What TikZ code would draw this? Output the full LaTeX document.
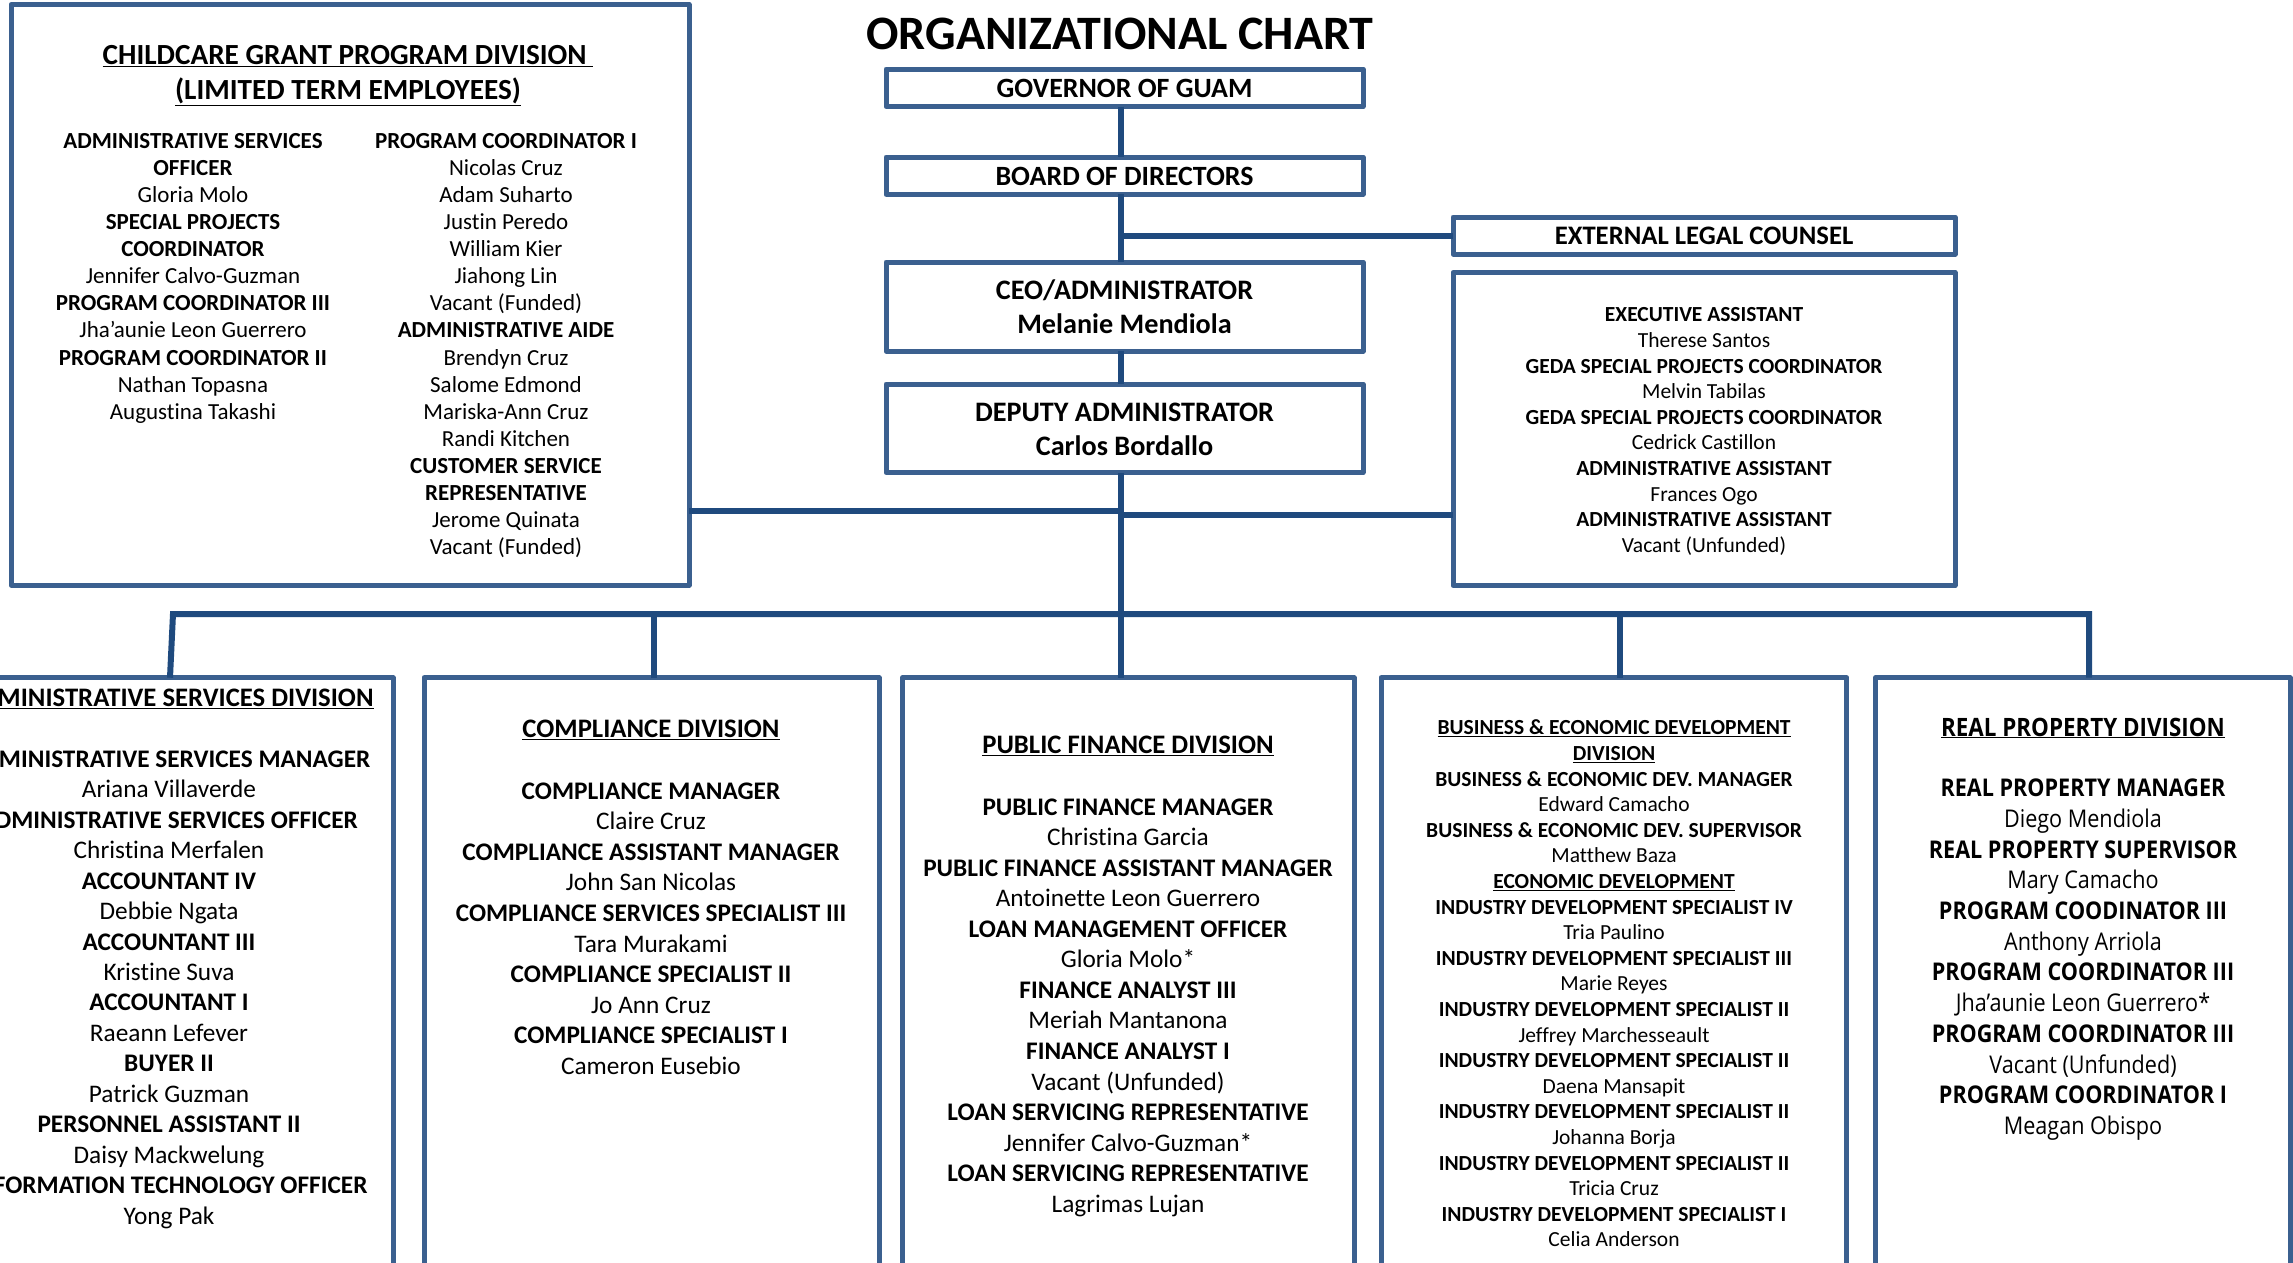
\documentclass[tikz,border=0pt]{standalone}
\usepackage{fontspec}
\setmainfont{Carlito}[Ligatures={NoCommon}, Contextuals={NoAlternate}]
\newfontfamily\rpfont[FakeStretch=0.885]{Open Sans}
\usetikzlibrary{calc}
\definecolor{connc}{RGB}{31,74,126}
\definecolor{bordc}{RGB}{59,96,143}
\newcommand\hb[1]{\textbf{#1}}
\newcommand\ul[1]{\underline{#1}}
\newcommand\stack[6]{%
  \foreach \t [count=\i] in {#6}{%
    \node[txt, font=#5] (#1\i) at (#2, {#3+(\i-1)*#4}) {\t};
  }}
\tikzset{
  txt/.style={anchor=base, inner sep=0pt, outer sep=0pt, text=black},
  conn/.style={draw=connc, line width=6pt, line join=miter},
  box/.style={draw=bordc, line width=5pt, fill=white, line join=round, inner sep=0pt, outer sep=0pt},
}
\begin{document}
\begin{tikzpicture}[x=1pt,y=-1pt]
\clip (0,0) rectangle (2293,1262);
\fill[white] (0,0) rectangle (2293,1262);
% connector coordinates
\coordinate (tk) at (1121,614);
\coordinate (jl) at (1121,511);
\coordinate (jr) at (1121,515);
\coordinate (je) at (1121,235.5);
\coordinate (bl) at (173,614);
\coordinate (br) at (2089,614);
\coordinate (d2) at (654,614);
\coordinate (d4) at (1620,614);
\coordinate (b1c) at (170,677.7);
% boxes
\node[box, minimum width=678, minimum height=580.5] (cc) at (350,294.75) {};
\node[box, minimum width=477, minimum height=37.5] (gov) at (1124.5,87.75) {};
\node[box, minimum width=477, minimum height=37.3] (board) at (1124.5,175.65) {};
\node[box, minimum width=477, minimum height=89] (ceo) at (1124.5,306.5) {};
\node[box, minimum width=477, minimum height=88.5] (dep) at (1124.5,428.25) {};
\node[box, minimum width=502, minimum height=37] (ext) at (1704,235.5) {};
\node[box, minimum width=502, minimum height=313] (exec) at (1704,429) {};
\node[box, minimum width=455, minimum height=622.3] (b1) at (165.5,988.85) {};
\node[box, minimum width=455, minimum height=622.3] (b2) at (651.5,988.85) {};
\node[box, minimum width=451.5, minimum height=622.3] (b3) at (1128.25,988.85) {};
\node[box, minimum width=465.7, minimum height=622.3] (b4) at (1613.85,988.85) {};
\node[box, minimum width=414.3, minimum height=622.3] (b5) at (2082.85,988.85) {};
% connectors
\draw[conn] (gov.south -| tk) -- (board.north -| tk);
\draw[conn] (board.south -| tk) -- (ceo.north -| tk);
\draw[conn] (ceo.south -| tk) -- (dep.north -| tk);
\draw[conn] (dep.south -| tk) -- (b3.north -| tk);
\draw[conn] (je) -- (ext.west);
\draw[conn] (cc.east |- jl) -- (jl);
\draw[conn] (jr) -- (exec.west |- jr);
\draw[conn] (b1c) -- (bl) -- (br) -- (b5.north -| br);
\draw[conn] (d2) -- (b2.north -| d2);
\draw[conn] (d4) -- (b4.north -| d4);
% title
\node[txt, font=\fontsize{48}{52}\selectfont\bfseries] (title) at (1120,49.5) {ORGANIZATIONAL CHART};
% top chain
\node[txt, font=\fontsize{27.9}{32}\selectfont\bfseries] (govt) at (1124.5,97) {GOVERNOR OF GUAM};
\node[txt, font=\fontsize{27.9}{32}\selectfont\bfseries] (boardt) at (1124.5,185) {BOARD OF DIRECTORS};
\node[txt, font=\fontsize{26.7}{32}\selectfont\bfseries] (extt) at (1704,244.6) {EXTERNAL LEGAL COUNSEL};
\stack{ceot}{1124.5}{299.6}{33.4}{\fontsize{28.2}{33}\selectfont\bfseries}{{CEO/ADMINISTRATOR},{Melanie Mendiola}}
\stack{dept}{1124.5}{421}{34}{\fontsize{28.2}{33}\selectfont\bfseries}{{DEPUTY ADMINISTRATOR},{Carlos Bordallo}}
% executive staff
\stack{ex}{1704}{321.9}{25.6}{\fontsize{21.5}{25}\selectfont}{%
{\hb{EXECUTIVE ASSISTANT}},{Therese Santos},
{\hb{GEDA SPECIAL PROJECTS COORDINATOR}},{Melvin Tabilas},
{\hb{GEDA SPECIAL PROJECTS COORDINATOR}},{Cedrick Castillon},
{\hb{ADMINISTRATIVE ASSISTANT}},{Frances Ogo},
{\hb{ADMINISTRATIVE ASSISTANT}},{Vacant (Unfunded)}}
% childcare
\stack{cct}{348}{64.5}{34.5}{\fontsize{29.2}{33}\selectfont\bfseries}{%
{\ul{CHILDCARE GRANT PROGRAM DIVISION\ }},{\ul{(LIMITED TERM EMPLOYEES)}}}
\stack{ccl}{193}{148.4}{27.08}{\fontsize{23}{27}\selectfont}{%
{\hb{ADMINISTRATIVE SERVICES}},{\hb{OFFICER}},{Gloria Molo},
{\hb{SPECIAL PROJECTS}},{\hb{COORDINATOR}},{Jennifer Calvo-Guzman},
{\hb{PROGRAM COORDINATOR III}},{Jha’aunie Leon Guerrero},
{\hb{PROGRAM COORDINATOR II}},{Nathan Topasna},{Augustina Takashi}}
\stack{ccr}{506}{148.4}{27.08}{\fontsize{23}{27}\selectfont}{%
{\hb{PROGRAM COORDINATOR I}},{Nicolas Cruz},{Adam Suharto},{Justin Peredo},
{William Kier},{Jiahong Lin},{Vacant (Funded)},{\hb{ADMINISTRATIVE AIDE}},
{Brendyn Cruz},{Salome Edmond},{Mariska-Ann Cruz},{Randi Kitchen},
{\hb{CUSTOMER SERVICE}},{\hb{REPRESENTATIVE}},{Jerome Quinata},{Vacant (Funded)}}
% division 1
\node[txt, font=\fontsize{26.7}{30}\selectfont\bfseries] (b1h) at (169,706.5) {\ul{ADMINISTRATIVE SERVICES DIVISION}};
\stack{b1t}{169}{767.2}{30.47}{\fontsize{25.3}{30}\selectfont}{%
{\hb{ADMINISTRATIVE SERVICES MANAGER}},{Ariana Villaverde},
{\hb{ADMINISTRATIVE SERVICES OFFICER}},{Christina Merfalen},
{\hb{ACCOUNTANT IV}},{Debbie Ngata},{\hb{ACCOUNTANT III}},{Kristine Suva},
{\hb{ACCOUNTANT I}},{Raeann Lefever},{\hb{BUYER II}},{Patrick Guzman},
{\hb{PERSONNEL ASSISTANT II}},{Daisy Mackwelung},
{\hb{INFORMATION TECHNOLOGY OFFICER}},{Yong Pak}}
% division 2
\node[txt, font=\fontsize{26.7}{30}\selectfont\bfseries] (b2h) at (651,737.7) {\ul{COMPLIANCE DIVISION}};
\stack{b2t}{651}{799.2}{30.56}{\fontsize{25.3}{30}\selectfont}{%
{\hb{COMPLIANCE MANAGER}},{Claire Cruz},
{\hb{COMPLIANCE ASSISTANT MANAGER}},{John San Nicolas},
{\hb{COMPLIANCE SERVICES SPECIALIST III}},{Tara Murakami},
{\hb{COMPLIANCE SPECIALIST II}},{Jo Ann Cruz},
{\hb{COMPLIANCE SPECIALIST I}},{Cameron Eusebio}}
% division 3
\node[txt, font=\fontsize{26.7}{30}\selectfont\bfseries] (b3h) at (1128,753.5) {\ul{PUBLIC FINANCE DIVISION}};
\stack{b3t}{1128}{815.2}{30.54}{\fontsize{25.3}{30}\selectfont}{%
{\hb{PUBLIC FINANCE MANAGER}},{Christina Garcia},
{\hb{PUBLIC FINANCE ASSISTANT MANAGER}},{Antoinette Leon Guerrero},
{\hb{LOAN MANAGEMENT OFFICER}},{Gloria Molo*},
{\hb{FINANCE ANALYST III}},{Meriah Mantanona},
{\hb{FINANCE ANALYST I}},{Vacant (Unfunded)},
{\hb{LOAN SERVICING REPRESENTATIVE}},{Jennifer Calvo-Guzman*},
{\hb{LOAN SERVICING REPRESENTATIVE}},{Lagrimas Lujan}}
% division 4
\stack{b4t}{1614}{734.9}{25.6}{\fontsize{21.5}{25}\selectfont}{%
{\hb{\ul{BUSINESS \& ECONOMIC DEVELOPMENT}}},{\hb{\ul{DIVISION}}},
{\hb{BUSINESS \& ECONOMIC DEV. MANAGER}},{Edward Camacho},
{\hb{BUSINESS \& ECONOMIC DEV. SUPERVISOR}},{Matthew Baza},
{\hb{\ul{ECONOMIC DEVELOPMENT}}},
{\hb{INDUSTRY DEVELOPMENT SPECIALIST IV}},{Tria Paulino},
{\hb{INDUSTRY DEVELOPMENT SPECIALIST III}},{Marie Reyes},
{\hb{INDUSTRY DEVELOPMENT SPECIALIST II}},{Jeffrey Marchesseault},
{\hb{INDUSTRY DEVELOPMENT SPECIALIST II}},{Daena Mansapit},
{\hb{INDUSTRY DEVELOPMENT SPECIALIST II}},{Johanna Borja},
{\hb{INDUSTRY DEVELOPMENT SPECIALIST II}},{Tricia Cruz},
{\hb{INDUSTRY DEVELOPMENT SPECIALIST I}},{Celia Anderson}}
% division 5
\node[txt, font=\fontsize{25.3}{30}\selectfont\rpfont\bfseries] (b5h) at (2083,736) {\ul{REAL PROPERTY DIVISION}};
\stack{b5t}{2083}{796.7}{30.7}{\fontsize{24.4}{30}\selectfont\rpfont}{%
{\hb{REAL PROPERTY MANAGER}},{Diego Mendiola},
{\hb{REAL PROPERTY SUPERVISOR}},{Mary Camacho},
{\hb{PROGRAM COODINATOR III}},{Anthony Arriola},
{\hb{PROGRAM COORDINATOR III}},{Jha’aunie Leon Guerrero*},
{\hb{PROGRAM COORDINATOR III}},{Vacant (Unfunded)},
{\hb{PROGRAM COORDINATOR I}},{Meagan Obispo}}
\end{tikzpicture}
\end{document}
